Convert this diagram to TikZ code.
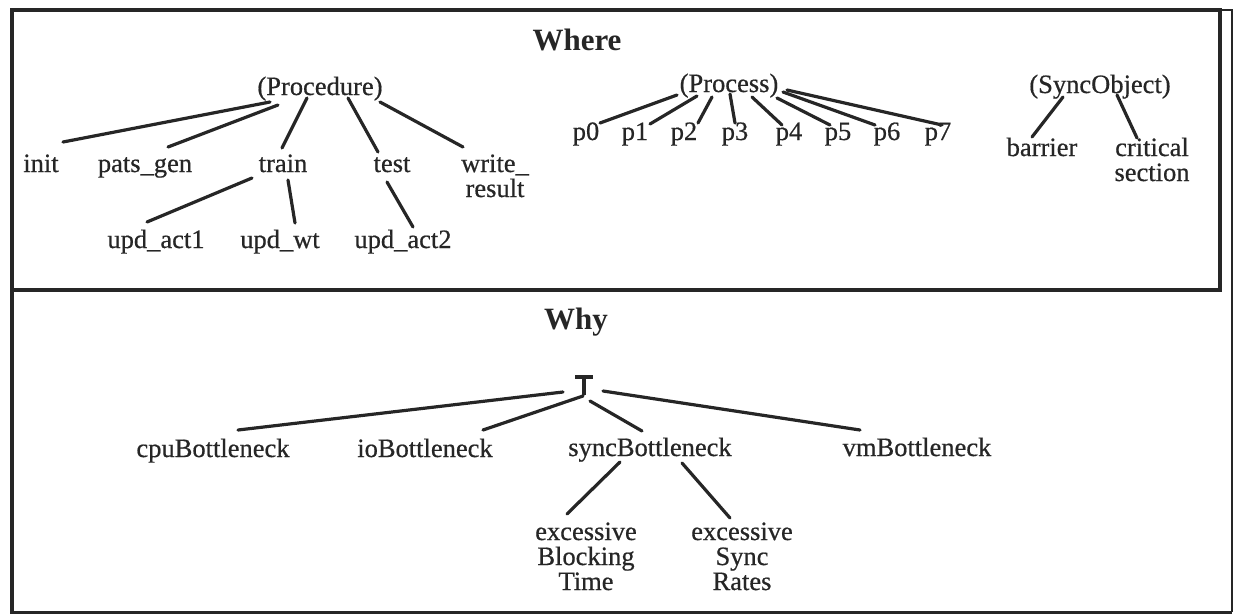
\documentclass[tikz,border=0pt]{standalone}
\usepackage{fontspec}
\setmainfont{Liberation Serif}
\newfontfamily\labelfont[FakeBold=0.6]{Liberation Serif}
\definecolor{ink}{HTML}{262626}
\begin{document}
\begin{tikzpicture}[x=1pt,y=-1pt,
  lbl/.style={inner sep=0pt,anchor=base,align=center,text=ink,
    font=\labelfont\fontsize{26.5}{25}\selectfont},
  heading/.style={inner sep=0pt,anchor=base,text=ink,
    font=\fontsize{31}{32}\selectfont\bfseries},
  conn/.style={draw=ink,line width=3.2pt,line cap=round},
  frame/.style={draw=ink,line width=4.5pt},
  thinframe/.style={draw=ink,line width=2pt}]
\useasboundingbox (0,0) rectangle (1236,614);
% edge between two nodes, each end offset from the node's base point
% (for multi-line labels the base point is the baseline of the last line)
\newcommand\conn[4]{\draw[conn] ([shift={(#2)}]#1.base) -- ([shift={(#4)}]#3.base);}

% frames
\draw[frame] (12,10) rectangle (1220,290);
\draw[thinframe] (1220,10) -- (1232,10) -- (1232,612);
\draw[frame] (12,290) -- (12,614);
\draw[draw=ink,line width=3pt] (12,612) -- (1232,612);

% ---- Where ----
\node[heading] (where) at (577,50) {Where};

\node[lbl] (proc) at (320,95) {(Procedure)};
\node[lbl] (init) at (41,172) {init};
\node[lbl] (pats) at (145,172) {pats\_gen};
\node[lbl] (train) at (283,172) {train};
\node[lbl] (test) at (392,172) {test};
\node[lbl] (write) at (495,197) {write\_\\result};
\node[lbl] (upda) at (156,248) {upd\_act1};
\node[lbl] (updw) at (280,248) {upd\_wt};
\node[lbl] (updb) at (403,248) {upd\_act2};

\conn{proc}{-50,7}{init}{22,-30}
\conn{proc}{-42,10}{pats}{23,-25}
\conn{proc}{-13,3}{train}{-1,-24}
\conn{proc}{28,3}{test}{-14,-20}
\conn{proc}{60,7}{write}{-32,-50}
\conn{train}{-31,6}{upda}{-9,-26}
\conn{train}{5,8}{updw}{15,-25}
\conn{test}{-5,10}{updb}{10,-21}

\node[lbl] (process) at (729,92) {(Process)};
\foreach \i/\x in {0/586,1/635,2/684,3/735,4/789,5/838,6/887,7/938}
  \node[lbl] (p\i) at (\x,140) {p\i};
\conn{process}{-52,3}{p0}{14,-17}
\conn{process}{-32,4}{p1}{15,-16}
\conn{process}{-17,5}{p2}{14,-17}
\conn{process}{1,2}{p3}{0,-17}
\conn{process}{23,5}{p4}{-7,-15}
\conn{process}{48,6}{p5}{-8,-15}
\conn{process}{54,0}{p6}{-12,-15}
\conn{process}{58,-2}{p7}{4,-15}

\node[lbl] (syncobj) at (1100,93) {(SyncObject)};
\node[lbl] (barrier) at (1042,156) {barrier};
\node[lbl] (critical) at (1152,181) {critical\\section};
\conn{syncobj}{-37,4}{barrier}{-10,-19}
\conn{syncobj}{17,2}{critical}{-15,-43}

% ---- Why ----
\node[heading] (why) at (576,329) {Why};
\node[inner sep=0pt,minimum size=20pt] (root) at (584,386) {};
\draw[draw=ink,line width=4pt] ([shift={(-9,-9)}]root.center) -- ([shift={(9,-9)}]root.center)
  ([shift={(0,-9)}]root.center) -- ([shift={(0,9)}]root.center);

\node[lbl] (cpu) at (213,457) {cpuBottleneck};
\node[lbl] (io) at (425,457) {ioBottleneck};
\node[lbl] (syncb) at (650,456) {syncBottleneck};
\node[lbl] (vm) at (917,456) {vmBottleneck};
\node[lbl] (exblock) at (586,590) {excessive\\Blocking\\Time};
\node[lbl] (exsync) at (742,590) {excessive\\Sync\\Rates};

\conn{root}{-21,6}{cpu}{25,-27}
\conn{root}{-1,10}{io}{58,-27}
\conn{root}{6,15}{syncb}{-8,-25}
\conn{root}{19,5}{vm}{-57,-26}
\conn{syncb}{-30,6}{exblock}{-19,-76}
\conn{syncb}{32,7}{exsync}{-12,-72}
\end{tikzpicture}
\end{document}
